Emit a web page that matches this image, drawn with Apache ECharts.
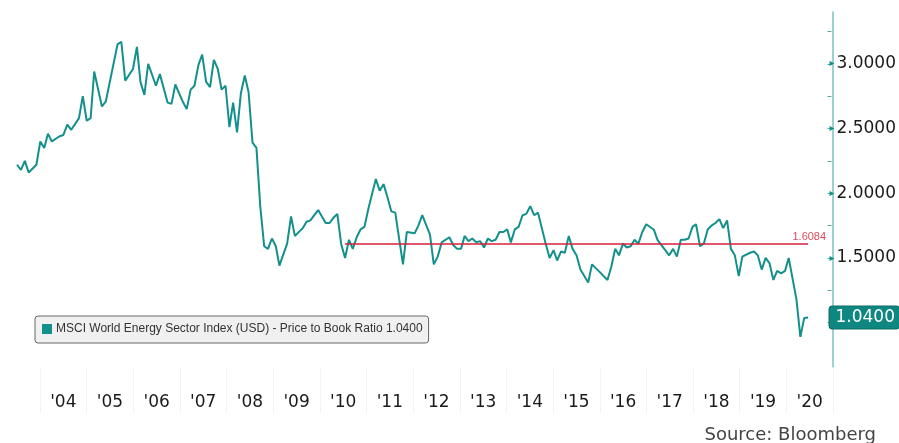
<!DOCTYPE html>
<html>
<head>
<meta charset="utf-8">
<script src="https://cdn.jsdelivr.net/npm/echarts@6/dist/echarts.min.js"></script>
<style>
  html, body { margin: 0; padding: 0; background: #fff; }
  #chart { width: 899px; height: 443px; }
</style>
</head>
<body>
<div id="chart"></div>
<script>
// month-end readings of the price to book ratio
const dates = [
  '2003-07', '2003-08', '2003-09', '2003-10', '2003-12',
  '2004-01', '2004-02', '2004-03', '2004-04', '2004-06', '2004-07', '2004-08', '2004-09', '2004-11', '2004-12',
  '2005-01', '2005-02', '2005-03', '2005-05', '2005-06', '2005-09', '2005-10', '2005-11',
  '2006-01', '2006-02', '2006-03', '2006-04', '2006-05', '2006-07', '2006-08', '2006-10', '2006-11', '2006-12',
  '2007-02', '2007-03', '2007-04', '2007-05', '2007-06', '2007-07', '2007-08', '2007-09', '2007-10', '2007-11', '2007-12',
  '2008-01', '2008-02', '2008-03', '2008-04', '2008-05', '2008-06', '2008-07', '2008-08', '2008-09', '2008-10', '2008-11', '2008-12',
  '2009-01', '2009-02', '2009-03', '2009-05', '2009-06', '2009-07', '2009-09', '2009-10', '2009-11', '2009-12',
  '2010-01', '2010-03', '2010-04', '2010-05', '2010-06', '2010-07', '2010-08', '2010-09', '2010-10', '2010-11', '2010-12',
  '2011-01', '2011-02', '2011-03', '2011-04', '2011-05', '2011-06', '2011-07', '2011-08', '2011-09', '2011-11', '2011-12',
  '2012-02', '2012-03', '2012-04', '2012-06', '2012-07', '2012-08', '2012-09', '2012-11', '2012-12',
  '2013-01', '2013-02', '2013-03', '2013-04', '2013-05', '2013-06', '2013-07', '2013-08', '2013-09', '2013-10', '2013-11', '2013-12',
  '2014-01', '2014-02', '2014-03', '2014-04', '2014-05', '2014-06', '2014-07', '2014-08', '2014-09', '2014-10', '2014-12',
  '2015-01', '2015-02', '2015-03', '2015-04', '2015-05', '2015-06', '2015-07', '2015-08', '2015-09', '2015-11', '2015-12',
  '2016-02', '2016-04', '2016-05', '2016-06', '2016-07', '2016-08', '2016-09', '2016-10', '2016-11', '2016-12',
  '2017-01', '2017-02', '2017-04', '2017-05', '2017-07', '2017-08', '2017-09', '2017-10', '2017-11', '2017-12',
  '2018-01', '2018-02', '2018-03', '2018-04', '2018-05', '2018-06', '2018-07', '2018-08', '2018-09', '2018-10', '2018-11', '2018-12',
  '2019-01', '2019-02', '2019-03', '2019-05', '2019-06', '2019-07', '2019-08', '2019-09', '2019-10', '2019-11', '2019-12',
  '2020-01', '2020-02', '2020-03', '2020-05', '2020-06', '2020-07', '2020-08'
]
const ratios = [
  2.22, 2.18, 2.25, 2.16, 2.22,
  2.40, 2.35, 2.46, 2.40, 2.44, 2.45, 2.53, 2.49, 2.58, 2.75,
  2.56, 2.58, 2.94, 2.67, 2.71, 3.15, 3.17, 2.87,
  2.96, 3.13, 2.86, 2.76, 3.00, 2.83, 2.92, 2.70, 2.69, 2.84,
  2.70, 2.65, 2.80, 2.83, 2.99, 3.07, 2.86, 2.82, 3.03, 2.96, 2.80,
  2.83, 2.51, 2.70, 2.47, 2.77, 2.91, 2.78, 2.39, 2.35, 1.90, 1.59, 1.57,
  1.65, 1.59, 1.44, 1.61, 1.82, 1.67, 1.73, 1.78, 1.79, 1.83,
  1.87, 1.77, 1.77, 1.81, 1.84, 1.61, 1.50, 1.64, 1.57, 1.66, 1.72,
  1.74, 1.88, 1.99, 2.11, 2.02, 2.07, 1.97, 1.86, 1.85, 1.45, 1.70,
  1.69, 1.75, 1.83, 1.68, 1.45, 1.51, 1.62, 1.66, 1.60,
  1.57, 1.57, 1.67, 1.63, 1.65, 1.62, 1.63, 1.58, 1.65, 1.63, 1.64, 1.70,
  1.70, 1.72, 1.62, 1.72, 1.74, 1.83, 1.84, 1.90, 1.83, 1.85, 1.61,
  1.50, 1.56, 1.48, 1.55, 1.54, 1.67, 1.57, 1.52, 1.41, 1.31, 1.45,
  1.39, 1.33, 1.43, 1.57, 1.52, 1.61, 1.58, 1.59, 1.64, 1.61,
  1.70, 1.76, 1.72, 1.64, 1.56, 1.52, 1.57, 1.51, 1.64, 1.64,
  1.65, 1.74, 1.76, 1.59, 1.61, 1.72, 1.75, 1.77, 1.80, 1.73, 1.79, 1.57,
  1.52, 1.36, 1.51, 1.54, 1.55, 1.52, 1.41, 1.50, 1.46, 1.33, 1.40,
  1.38, 1.40, 1.50, 1.18, 0.89, 1.035, 1.04
]
const yearLabels = ["'04", "'05", "'06", "'07", "'08", "'09", "'10", "'11", "'12",
  "'13", "'14", "'15", "'16", "'17", "'18", "'19", "'20"]
// average line drawn over the last ten years
const avgValue = 1.6084
const avgStart = '2010-08'
const avgEnd = '2020-08'

const TEAL = '#14908c'
const lastValue = ratios[ratios.length - 1]
const seriesName = 'MSCI World Energy Sector Index (USD) - Price to Book Ratio ' + lastValue.toFixed(4)

const chart = echarts.init(document.getElementById('chart'), null, { renderer: 'canvas' })

const option = {
  animation: false,
  backgroundColor: '#fff',
  textStyle: { fontFamily: 'DejaVu Sans' },
  title: {
    text: 'Source: Bloomberg',
    right: 23,
    top: 426,
    padding: 0,
    textStyle: { fontSize: 18, fontWeight: 'normal', color: '#444', fontFamily: 'DejaVu Sans' },
  },
  legend: {
    left: 35,
    top: 316,
    padding: [7, 6, 8, 7],
    backgroundColor: '#f0f0f0',
    borderColor: '#666',
    borderWidth: 1,
    borderRadius: 3,
    icon: 'rect',
    itemWidth: 10,
    itemHeight: 10,
    itemGap: 4,
    textStyle: { fontSize: 12, color: '#333', fontFamily: 'Liberation Sans', padding: [0, 0, 0, -1] },
    data: [seriesName],
  },
  grid: [
    // data grid: its bottom edge sits at the 0.75 tick
    { left: 17, right: 66, top: 12, bottom: 88 },
    // frame grid: year labels and the full-height value axis line
    { left: 40, right: 66, top: 12, bottom: 76 },
  ],
  xAxis: [
    {
      type: 'time',
      gridIndex: 0,
      min: '2003-07-01',
      max: '2021-01-01',
      axisLine: { show: false },
      axisTick: { show: false },
      axisLabel: { show: false },
      splitLine: { show: false },
    },
    {
      type: 'category',
      gridIndex: 1,
      data: yearLabels,
      boundaryGap: true,
      axisLine: { show: false },
      axisTick: { show: true, length: 46, lineStyle: { color: '#f3f3f3', width: 1 } },
      axisLabel: { color: '#1a1a1a', fontSize: 17, margin: 27, fontFamily: 'DejaVu Sans' },
      splitLine: { show: false },
    },
  ],
  yAxis: [
    {
      type: 'value',
      gridIndex: 0,
      position: 'right',
      min: 0.75,
      max: 3.4,
      interval: 0.25,
      axisLine: { show: false },
      axisTick: { show: true, length: 4, lineStyle: { color: '#5aa9a6' } },
      splitLine: { show: false },
      axisLabel: {
        margin: 2,
        color: '#1a1a1a',
        fontSize: 17,
        fontFamily: 'DejaVu Sans',
        showMinLabel: false,
        showMaxLabel: false,
        formatter: v => (Math.abs(v * 2 - Math.round(v * 2)) < 1e-6 && Math.abs(v - 1) > 1e-6)
          ? '{t|▸}' + v.toFixed(4) : '',
        rich: { t: { color: TEAL, fontSize: 10, padding: [0, 2, 0, 0] } },
      },
      axisPointer: {
        show: true,
        status: 'show',
        value: lastValue,
        triggerTooltip: false,
        lineStyle: { opacity: 0 },
        label: {
          show: true,
          margin: 5,
          formatter: p => Number(p.value).toFixed(4),
          backgroundColor: '#0d8780',
          borderColor: '#0a6f69',
          borderWidth: 1,
          color: '#fff',
          fontSize: 17,
          fontFamily: 'DejaVu Sans',
          padding: [3, 4, 2, 6],
        },
      },
    },
    {
      type: 'value',
      gridIndex: 1,
      position: 'right',
      axisLine: { show: true, lineStyle: { color: '#7cc2c0', width: 1.5 } },
      axisTick: { show: false },
      axisLabel: { show: false },
      splitLine: { show: false },
    },
  ],
  series: [
    {
      name: seriesName,
      type: 'line',
      xAxisIndex: 0,
      yAxisIndex: 0,
      data: dates.map((d, i) => [d + '-01', ratios[i]]),
      showSymbol: false,
      symbol: 'none',
      color: TEAL,
      lineStyle: { color: TEAL, width: 2 },
      markLine: {
        silent: true,
        symbol: 'none',
        lineStyle: { color: '#d6203c', width: 1.5, type: 'solid' },
        label: {
          show: true,
          position: 'insideEndTop',
          formatter: avgValue.toFixed(4),
          color: '#d94a5c',
          fontSize: 11,
          fontFamily: 'Liberation Sans',
          distance: [-18, 1],
        },
        data: [[
          { coord: [avgStart + '-01', avgValue] },
          { coord: [avgEnd + '-01', avgValue] },
        ]],
      },
    },
  ],
}

chart.setOption(option)
</script>
</body>
</html>
